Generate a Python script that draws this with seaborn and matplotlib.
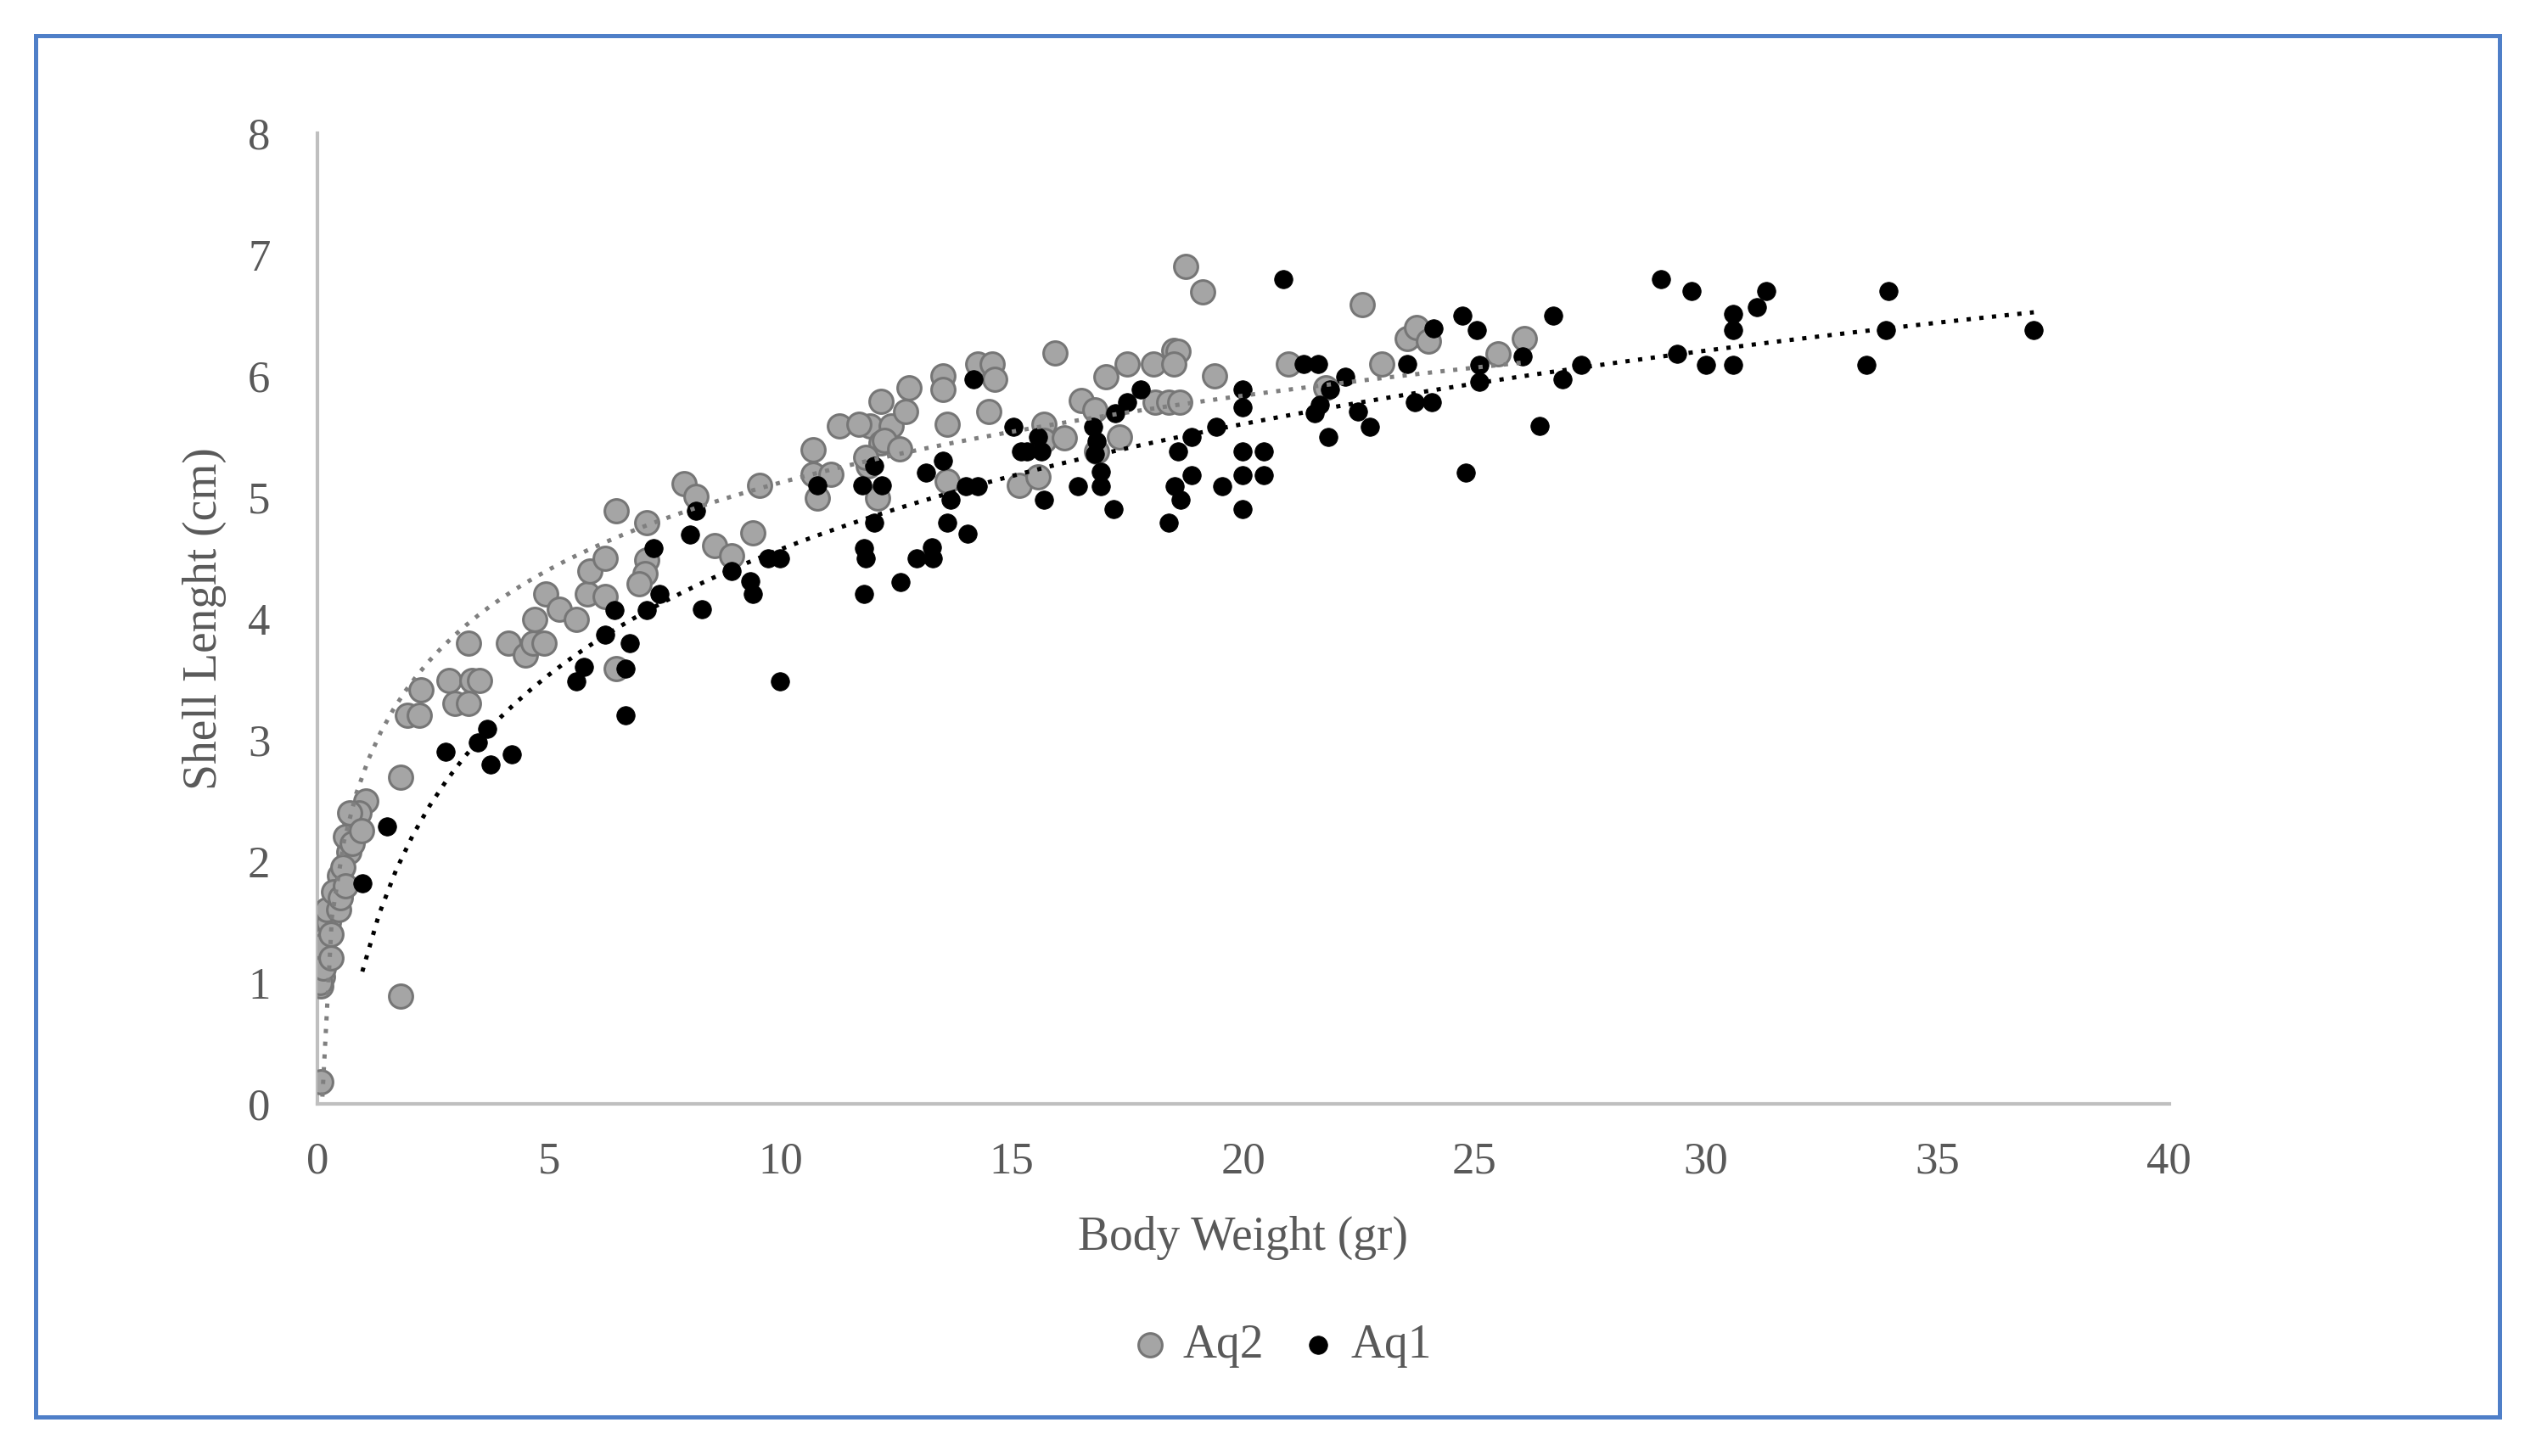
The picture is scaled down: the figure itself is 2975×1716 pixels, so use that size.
import numpy as np
import pandas as pd
import matplotlib
matplotlib.use("Agg")
import matplotlib.pyplot as plt
import matplotlib.patches as patches
import seaborn as sns

# Aq2 (grey) - body weight (gr) / shell length (cm)
aq2_weight = [0.07, 0.07, 0.11, 0.15, 0.19, 0.23, 0.40, 0.48, 0.68, 0.81, 1.05,
              0.05, 0.12, 0.10, 0.30, 0.20, 0.35, 0.55, 0.45, 0.60, 0.75, 0.90, 0.70, 0.95, 0.30, 0.50, 0.60,
              1.79, 1.79, 1.95, 2.20, 2.24, 2.85, 3.34, 3.51, 2.98, 3.26, 3.26, 4.12, 4.49, 4.66, 4.90,
              4.69, 4.94, 5.22, 5.59, 5.84, 6.21, 5.88, 6.21, 6.45, 7.11, 7.11, 7.07, 6.95, 6.45,
              8.58, 8.95, 9.40, 7.93, 8.17, 9.56, 10.7, 10.7, 11.1, 10.8, 11.28, 12.18, 11.93, 12.4,
              12.18, 11.9, 12.1,
              18.76, 19.12, 22.57, 15.93, 13.52, 13.52, 12.78, 14.26, 14.58, 14.63, 12.7, 11.7,
              12.25, 12.58, 11.84, 13.6, 13.6, 14.5, 15.69, 15.69, 16.14, 15.16, 15.56, 16.5, 16.8,
              17.04, 17.49, 18.06, 18.5, 18.6, 18.5, 19.38, 18.1, 18.39, 18.63, 17.32, 16.83,
              20.97, 23.0, 23.54, 23.75, 24.0, 21.79, 25.5, 26.07]
aq2_length = [0.18, 0.97, 1.05, 1.21, 1.37, 1.50, 1.69, 1.88, 2.08, 2.29, 2.50,
              1.00, 1.12, 1.30, 1.40, 1.60, 1.75, 1.95, 1.60, 2.20, 2.15, 2.40, 2.40, 2.25, 1.20, 1.70, 1.80,
              0.89, 2.69, 3.20, 3.20, 3.41, 3.49, 3.49, 3.49, 3.30, 3.30, 3.80, 3.80, 3.70, 3.80, 3.80,
              3.99, 4.20, 4.08, 3.99, 4.20, 4.18, 4.39, 4.50, 4.89, 4.79, 4.48, 4.37, 4.29, 3.59,
              4.60, 4.52, 4.71, 5.11, 5.01, 5.10, 5.39, 5.19, 5.19, 4.99, 5.59, 5.79, 5.59, 5.59,
              5.45, 5.26, 4.99,
              6.90, 6.69, 6.59, 6.19, 6.00, 5.89, 5.90, 6.10, 6.10, 5.97, 5.71, 5.60,
              5.47, 5.40, 5.33, 5.60, 5.13, 5.71, 5.60, 5.47, 5.49, 5.10, 5.17, 5.80, 5.72,
              5.99, 6.10, 6.10, 6.21, 6.20, 6.10, 6.00, 5.78, 5.78, 5.78, 5.50, 5.38,
              6.10, 6.10, 6.31, 6.40, 6.29, 5.90, 6.18, 6.31]

# Aq1 (black)
aq1_weight = [0.97, 1.5, 2.77, 3.67, 3.46, 3.75, 4.2, 5.59, 5.76, 6.65, 6.65, 6.74, 6.21, 6.42,
              7.11, 7.39, 8.3, 10.0, 9.4, 9.36, 8.95, 9.73, 10.0, 11.8, 11.8, 12.02, 8.05, 8.17,
              7.27, 12.6, 10.8, 12.02, 11.77, 12.2,
              20.86, 14.17, 17.78, 17.49, 17.24, 16.76, 16.83, 16.8, 16.92, 16.92, 16.43, 17.2,
              15.03, 15.33, 15.65, 15.56, 15.69, 18.59, 18.88, 19.41, 19.98, 19.98, 19.98, 20.44,
              19.98, 20.44, 19.54, 18.88, 18.52, 18.64, 18.39, 19.98, 21.3, 21.62, 22.2, 21.87,
              21.66, 21.55, 21.83, 22.48, 22.73, 23.55, 23.7, 24.08, 24.12,
              11.85, 12.94, 13.27, 13.3, 13.6, 14.05, 13.52, 13.15, 13.68, 14.0, 14.26, 15.2,
              29.02, 29.68, 31.3, 31.1, 30.58, 30.58, 30.58, 30.0, 29.38, 33.94, 33.89, 33.47,
              26.69, 27.3, 26.9, 26.4, 24.8, 26.03, 25.1, 25.1, 24.73, 25.05, 37.08]
aq1_length = [1.82, 2.29, 2.90, 3.09, 2.98, 2.80, 2.88, 3.48, 3.60, 3.20, 3.59, 3.80, 3.87, 4.07,
              4.07, 4.20, 4.08, 3.48, 4.20, 4.31, 4.39, 4.50, 4.50, 4.20, 4.58, 4.79, 4.69, 4.89,
              4.58, 4.30, 5.10, 5.26, 5.10, 5.10,
              6.80, 5.97, 5.89, 5.78, 5.69, 5.58, 5.46, 5.36, 5.21, 5.09, 5.09, 4.90,
              5.58, 5.38, 5.38, 5.50, 4.98, 5.38, 5.50, 5.58, 5.89, 5.74, 5.38, 5.38,
              5.18, 5.18, 5.09, 5.18, 5.09, 4.98, 4.79, 4.90, 6.10, 6.10, 5.99, 5.89,
              5.76, 5.69, 5.50, 5.71, 5.58, 6.10, 5.78, 5.78, 6.39,
              4.50, 4.50, 4.59, 4.50, 4.79, 4.70, 5.30, 5.20, 4.98, 5.09, 5.09, 5.38,
              6.80, 6.70, 6.70, 6.57, 6.51, 6.38, 6.09, 6.09, 6.18, 6.70, 6.38, 6.09,
              6.50, 6.09, 5.97, 5.59, 5.20, 6.16, 6.09, 5.95, 6.50, 6.38, 6.38]

x_ticks = [0, 5, 10, 15, 20, 25, 30, 35, 40]
y_ticks = [0, 1, 2, 3, 4, 5, 6, 7, 8]

df2 = pd.DataFrame({'weight': aq2_weight, 'length': aq2_length})
df1 = pd.DataFrame({'weight': aq1_weight, 'length': aq1_length})

sns.set_style("white")
plt.rcParams['font.family'] = ['Liberation Serif', 'DejaVu Serif']

text_col = '#595959'
axis_col = '#BFBFBF'

fig = plt.figure(figsize=(14.875, 8.58), dpi=200)
ax = fig.add_axes([0.1257, 0.2418, 0.7333, 0.6667])

# scatter points
sns.scatterplot(data=df2, x='weight', y='length', ax=ax, color='#A5A5A5',
                edgecolor='#767676', linewidth=1.1, s=100, label='Aq2', zorder=3)
sns.scatterplot(data=df1, x='weight', y='length', ax=ax, color='black',
                edgecolor='black', linewidth=0.3, s=60, label='Aq1', zorder=4)

# logarithmic trendlines
sns.regplot(data=df2, x='weight', y='length', ax=ax, logx=True, scatter=False, ci=None,
            line_kws={'color': '#7F7F7F', 'lw': 1.8, 'ls': (0, (1, 2)), 'zorder': 5})
sns.regplot(data=df1, x='weight', y='length', ax=ax, logx=True, scatter=False, ci=None,
            line_kws={'color': 'black', 'lw': 1.8, 'ls': (0, (1, 2)), 'zorder': 5})

ax.set_xlim(0, 40)
ax.set_ylim(0, 8)
ax.set_xticks(x_ticks)
ax.set_yticks(y_ticks)
ax.tick_params(length=0, labelsize=19, colors=text_col)
ax.tick_params(axis='x', pad=16)
ax.tick_params(axis='y', pad=20)
for side in ['top', 'right']:
    ax.spines[side].set_visible(False)
for side in ['left', 'bottom']:
    ax.spines[side].set_color(axis_col)
    ax.spines[side].set_linewidth(1.5)

ax.set_xlabel('Body Weight (gr)', fontsize=20, color=text_col, labelpad=14)
ax.set_ylabel('Shell Lenght (cm)', fontsize=20, color=text_col, labelpad=9)

ax.legend(loc='center', bbox_to_anchor=(0.508, 0.076), bbox_transform=fig.transFigure,
          ncol=2, frameon=False, fontsize=20, handlelength=0.7, handletextpad=0.35,
          columnspacing=0.8, labelcolor=text_col)

# blue frame around the chart
fig.patches.append(patches.Rectangle((0.0141, 0.0268), 0.9758, 0.9487, transform=fig.transFigure,
                                     fill=False, edgecolor='#4F7FC8', linewidth=1.8))

fig.savefig('out.png', dpi=200)
